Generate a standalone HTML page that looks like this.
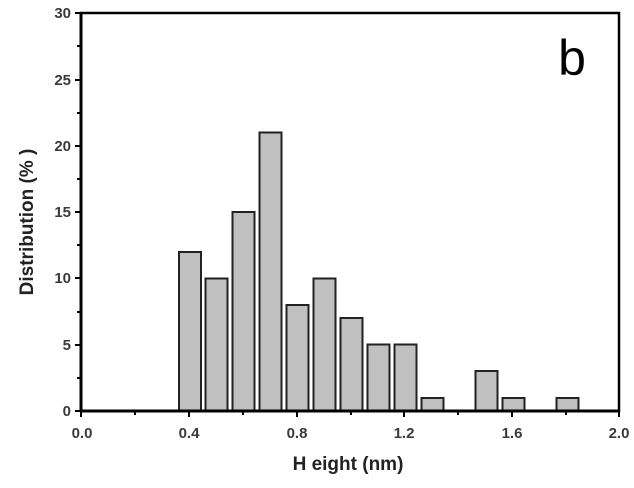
<!DOCTYPE html>
<html><head><style>
body{margin:0;background:#fff;}
svg text{font-family:"Liberation Sans",Arial,sans-serif;font-weight:bold;}
</style></head><body>
<svg width="634" height="483" viewBox="0 0 634 483" xmlns="http://www.w3.org/2000/svg">
<g fill="#c0c0c0" stroke="#222" stroke-width="2">
<rect x="179" y="252" width="22" height="159"/>
<rect x="205.5" y="278.5" width="22" height="132.5"/>
<rect x="232.5" y="212" width="22" height="199"/>
<rect x="259.5" y="132.5" width="22" height="278.5"/>
<rect x="286.5" y="305" width="22" height="106"/>
<rect x="313.5" y="278.5" width="22" height="132.5"/>
<rect x="340.5" y="318" width="22" height="93"/>
<rect x="367.5" y="344.5" width="22" height="66.5"/>
<rect x="394.5" y="344.5" width="22" height="66.5"/>
<rect x="421.5" y="398" width="22" height="13"/>
<rect x="475.5" y="371" width="22" height="40"/>
<rect x="502.5" y="398" width="22" height="13"/>
<rect x="556.5" y="398" width="22" height="13"/>
</g>
<g stroke="#000" fill="none">
<rect x="81" y="13" width="538" height="398" stroke-width="2.5"/>
<line x1="80" y1="411" x2="620" y2="411" stroke-width="3"/>
<line x1="81" y1="12" x2="81" y2="412" stroke-width="3"/>
<g stroke-width="2">
<path d="M81,411v6M135,411v4M189,411v6M243,411v4M297,411v6M351,411v4M404,411v6M458,411v4M512,411v6M566,411v4M619,411v6"/>
<path d="M81,411h-6M81,378h-4M81,345h-6M81,312h-4M81,278h-6M81,245h-4M81,212h-6M81,179h-4M81,146h-6M81,113h-4M81,80h-6M81,46h-4M81,13h-6"/>
</g></g>
<g fill="#3a3a3a" font-size="15" text-anchor="end">
<text x="71" y="416">0</text><text x="71" y="350">5</text><text x="71" y="283">10</text><text x="71" y="217">15</text><text x="71" y="151">20</text><text x="71" y="85">25</text><text x="71" y="18">30</text>
</g>
<g fill="#3a3a3a" font-size="15" text-anchor="middle">
<text x="82" y="438">0.0</text><text x="189" y="438">0.4</text><text x="297" y="438">0.8</text><text x="404" y="438">1.2</text><text x="512" y="438">1.6</text><text x="619" y="438">2.0</text>
</g>
<text x="348" y="470" font-size="19" text-anchor="middle" fill="#222">H eight (nm)</text>
<text transform="translate(33,222) rotate(-90)" font-size="19" text-anchor="middle" fill="#222">Distribution (% )</text>
<text x="572" y="75" font-size="50" text-anchor="middle" fill="#000" style="font-weight:normal">b</text>
</svg>
</body></html>
